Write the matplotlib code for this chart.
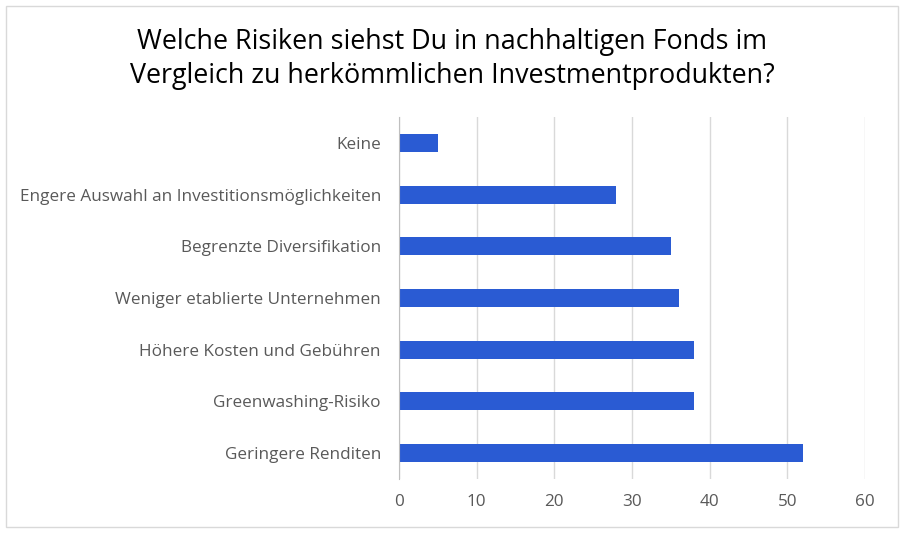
import matplotlib
matplotlib.use("Agg")
import matplotlib.pyplot as plt
from matplotlib.patches import Rectangle

categories = ["Keine", "Engere Auswahl an Investitionsmöglichkeiten",
              "Begrenzte Diversifikation", "Weniger etablierte Unternehmen",
              "Höhere Kosten und Gebühren", "Greenwashing-Risiko",
              "Geringere Renditen"]
values = [5, 28, 35, 36, 38, 38, 52]
xticks = [0, 10, 20, 30, 40, 50, 60]

plt.rcParams['font.family'] = ['Open Sans', 'DejaVu Sans']

fig = plt.figure(figsize=(9.04, 5.34), dpi=100)
ax = fig.add_axes([399/904, 1-479/534, (865-399)/904, (479-117)/534])

pos = list(range(len(categories)))
ax.barh(pos, values, height=0.35, color="#2a5bd3", zorder=3)
ax.set_ylim(len(categories) - 0.5, -0.5)
ax.set_yticks(pos)
ax.set_yticklabels(categories, fontsize=12.3, color="#595959")
ax.set_xlim(0, 60)
ax.set_xticks(xticks)
ax.set_xticklabels([str(t) for t in xticks], fontsize=12.3, color="#595959")
ax.tick_params(axis='y', length=0, pad=13)
ax.tick_params(axis='x', length=0, pad=11)
ax.grid(axis='x', color="#d9d9d9", linewidth=1, zorder=0)
for s in ['top', 'right', 'bottom']:
    ax.spines[s].set_visible(False)
ax.spines['left'].set_color("#bfbfbf")
ax.spines['left'].set_zorder(4)

fig.text(0.5, 1-42/534, "Welche Risiken siehst Du in nachhaltigen Fonds im",
         ha='center', va='center', fontsize=19.4, color="#000000")
fig.text(0.5, 1-76/534, "Vergleich zu herkömmlichen Investmentprodukten?",
         ha='center', va='center', fontsize=19.4, color="#000000")

fig.patches.append(Rectangle((6/904, 1-527/534), 892/904, 521/534,
                             transform=fig.transFigure, fill=False,
                             edgecolor="#d9d9d9", linewidth=1))

plt.savefig("out.png", dpi=100)
